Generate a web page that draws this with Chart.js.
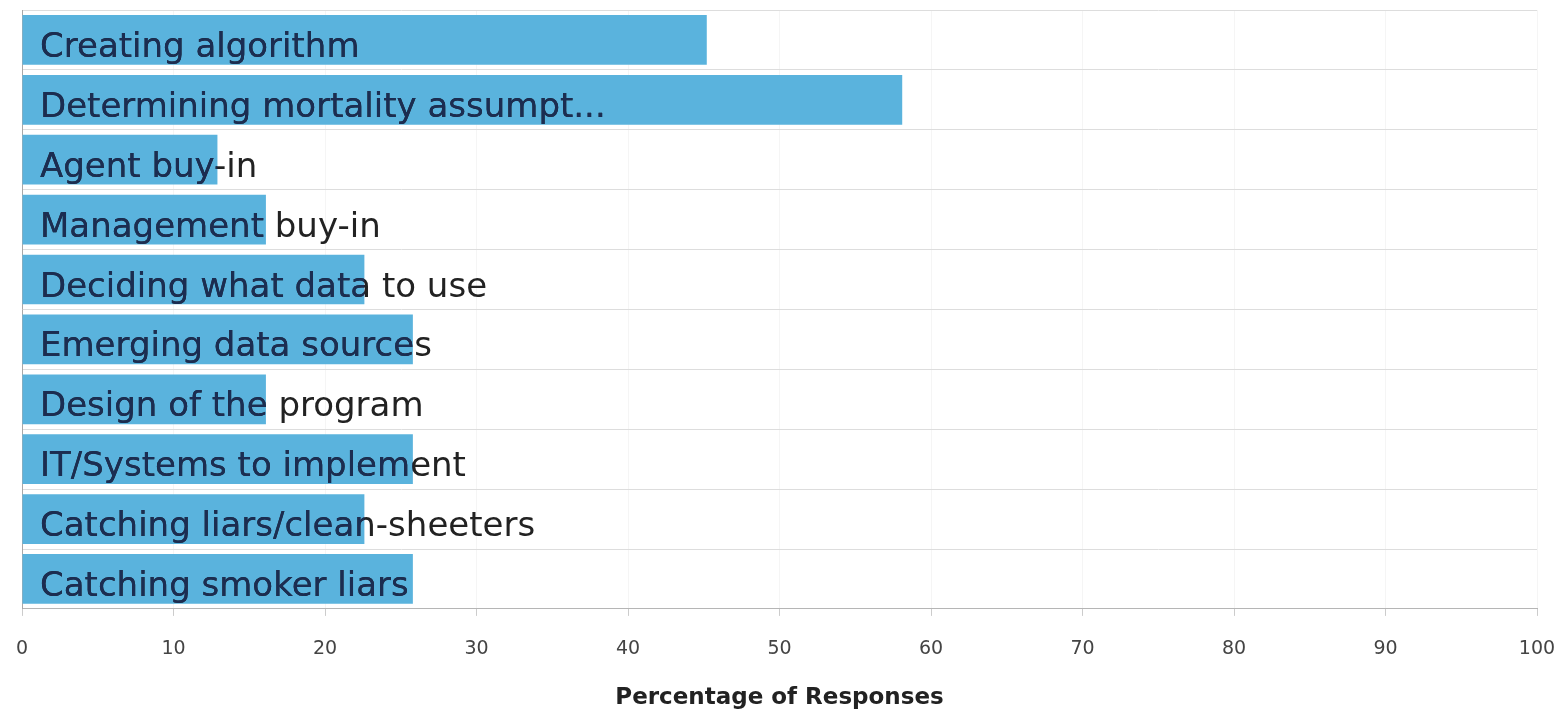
<!DOCTYPE html>
<html>
<head>
<meta charset="utf-8">
<script src="https://cdn.jsdelivr.net/npm/chart.js@4"></script>
<style>
  html, body { margin: 0; padding: 0; background: #ffffff; }
  #wrap { position: relative; width: 1565px; height: 715px; }
</style>
</head>
<body>
<div id="wrap"><canvas id="chart"></canvas></div>
<script>
// Challenges reported, with share of respondents (%)
const categories = [
  "Creating algorithm",
  "Determining mortality assumpt...",
  "Agent buy-in",
  "Management buy-in",
  "Deciding what data to use",
  "Emerging data sources",
  "Design of the program",
  "IT/Systems to implement",
  "Catching liars/clean-sheeters",
  "Catching smoker liars"
];
const percentages = [45.2, 58.1, 12.9, 16.1, 22.6, 25.8, 16.1, 25.8, 22.6, 25.8];
const xTicks = [0, 10, 20, 30, 40, 50, 60, 70, 80, 90, 100];

const FONT = "'DejaVu Sans', Verdana, sans-serif";

// Writes each category name inside its bar; the part over the bar is navy,
// the part running past the bar end is near-black
const insideLabels = {
  id: "insideLabels",
  afterDatasetsDraw(chart) {
    const { ctx, scales } = chart;
    const x0 = scales.x.getPixelForValue(0);
    const bars = chart.getDatasetMeta(0).data;
    ctx.save();
    ctx.font = "34px " + FONT;
    ctx.textAlign = "left";
    ctx.textBaseline = "alphabetic";
    categories.forEach((name, i) => {
      const y = scales.y.getPixelForValue(i) + 17;
      ctx.fillStyle = "#222222";
      ctx.fillText(name, x0 + 18, y);
      const b = bars[i];
      ctx.save();
      ctx.beginPath();
      ctx.rect(b.base, b.y - b.height / 2, b.x - b.base, b.height);
      ctx.clip();
      ctx.fillStyle = "#1b2d52";
      ctx.fillText(name, x0 + 18, y);
      ctx.restore();
    });
    ctx.restore();
  }
};

new Chart(document.getElementById("chart"), {
  type: "bar",
  data: {
    labels: categories,
    datasets: [{
      data: percentages,
      backgroundColor: "#5ab3dd",
      borderWidth: 0,
      barPercentage: 0.83,
      categoryPercentage: 1.0
    }]
  },
  options: {
    indexAxis: "y",
    responsive: true,
    maintainAspectRatio: false,
    animation: false,
    layout: { padding: { left: 22, top: 10, right: 28, bottom: 4 } },
    plugins: {
      legend: { display: false },
      tooltip: { enabled: false }
    },
    scales: {
      x: {
        min: 0,
        max: 100,
        afterBuildTicks(scale) { scale.ticks = xTicks.map(v => ({ value: v })); },
        // side room comes from the layout padding alone
        afterFit(scale) { scale.paddingLeft = 0; scale.paddingRight = 0; },
        grid: {
          color: "#f5f5f5",
          tickColor: "#cccccc",
          tickLength: 7,
          drawOnChartArea: true
        },
        border: { display: true, color: "#b5b5b5", width: 1 },
        ticks: {
          color: "#444444",
          padding: 22,
          font: { family: FONT, size: 19 }
        },
        title: {
          display: true,
          text: "Percentage of Responses",
          color: "#222222",
          padding: { top: 3, bottom: 0 },
          font: { family: FONT, size: 23, weight: "bold", lineHeight: 1.1 }
        }
      },
      y: {
        offset: true,
        grid: {
          offset: true,
          color: "#dddddd",
          drawTicks: false
        },
        border: { display: true, color: "#a8a8a8", width: 1 },
        ticks: { display: false }
      }
    }
  },
  plugins: [insideLabels]
});
</script>
</body>
</html>
